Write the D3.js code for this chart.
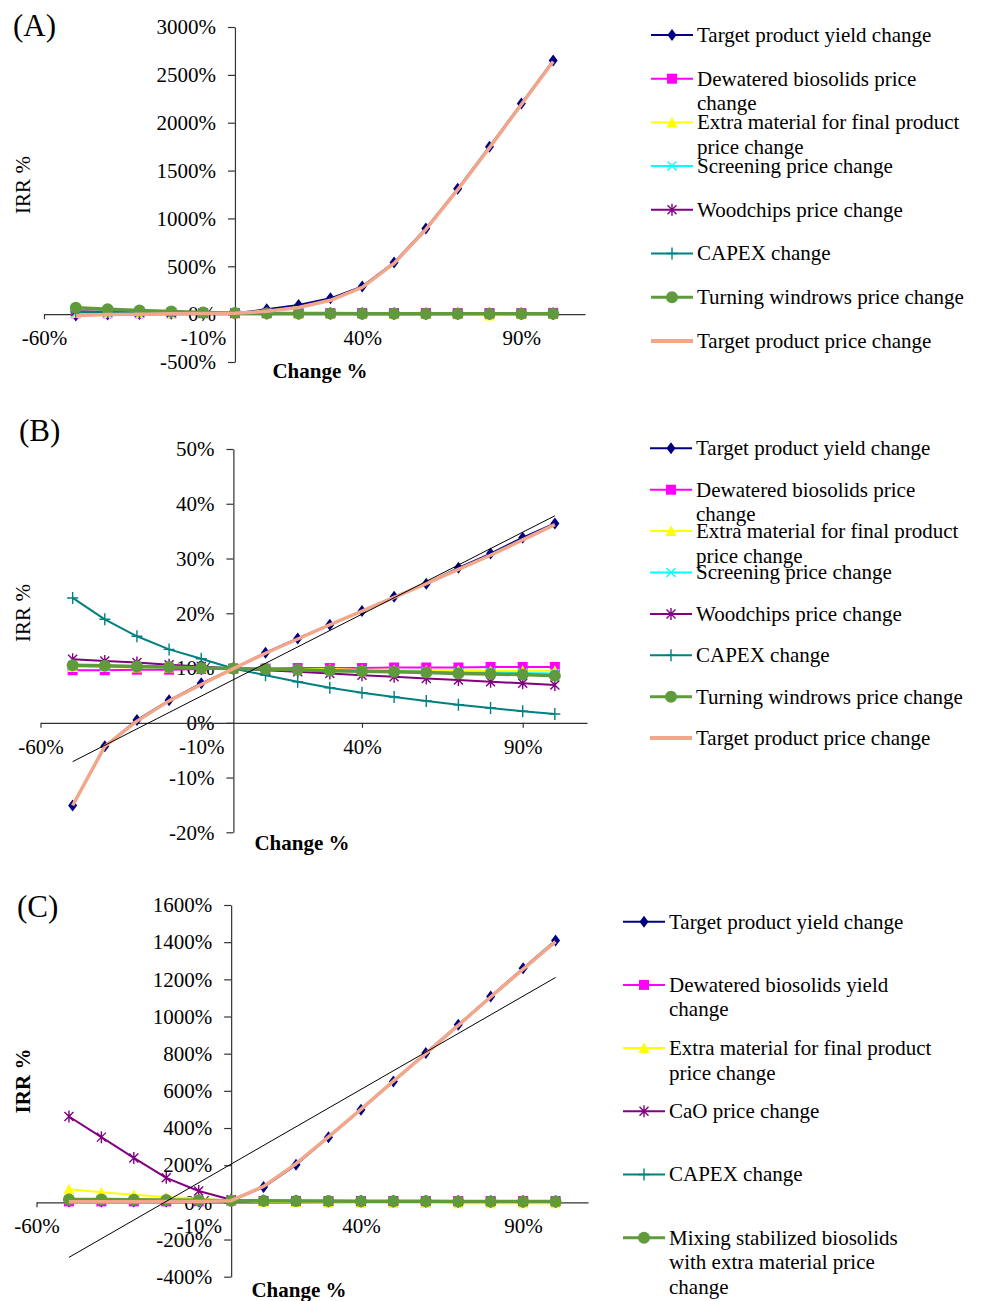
<!DOCTYPE html>
<html>
<head>
<meta charset="utf-8">
<script src="https://cdn.jsdelivr.net/npm/d3@7/dist/d3.min.js"></script>
<style>
body { margin: 0; background: #fff; }
svg { font-family: "Liberation Serif", "Times New Roman", serif; }
</style>
</head>
<body>
<div class="chart"></div>
<script>
// DATA
var changes = [-50, -40, -30, -20, -10, 0, 10, 20, 30, 40, 50, 60, 70, 80, 90, 100];
var xTicks = [-60, -10, 40, 90];

// (A)
var yTicksA = [-500, 0, 500, 1000, 1500, 2000, 2500, 3000];
var yieldA = [-15, -4, 1, 4, 7, 10, 50, 95, 165, 290, 540, 895, 1310, 1750, 2200, 2650];
var dewateredA = [9, 9, 9, 9, 10, 10, 10, 11, 11, 11, 11, 12, 12, 12, 12, 13];
var extraA = [12, 11, 11, 10, 10, 10, 9, 8, 7, 6, 5, 3, 0, -15, -2, 1];
var screeningA = [15, 13, 12, 11, 10, 10, 9, 9, 8, 8, 7, 7, 7, 6, 6, 6];
var woodchipsA = [30, 24, 19, 15, 12, 10, 9, 8, 7, 6, 6, 5, 5, 4, 4, 4];
var capexA = [25, 20, 16, 13, 11, 10, 9, 8, 7, 6, 5, 5, 4, 4, 3, 3];
var windrowsA = [68, 52, 38, 27, 17, 11, 8, 7, 6, 5, 5, 4, 4, 4, 3, 3];
var priceA = [-15, -4, 0, 4, 7, 10, 30, 70, 145, 280, 530, 885, 1300, 1740, 2190, 2640];

// (B)
var yTicksB = [-20, -10, 0, 10, 20, 30, 40, 50];
var yieldB = [-15.1, -4.3, 0.5, 4.1, 7.2, 9.9, 12.8, 15.4, 17.9, 20.4, 23.0, 25.4, 28.3, 30.9, 33.8, 36.4];
var dewateredB = [9.6, 9.6, 9.7, 9.7, 9.8, 9.9, 9.9, 10.0, 10.0, 10.0, 10.1, 10.1, 10.1, 10.2, 10.2, 10.2];
var extraB = [10.2, 10.2, 10.1, 10.1, 10.0, 9.9, 9.9, 9.8, 9.8, 9.7, 9.7, 9.6, 9.6, 9.5, 9.5, 9.5];
var screeningB = [10.4, 10.3, 10.2, 10.1, 10.0, 9.9, 9.8, 9.7, 9.6, 9.5, 9.4, 9.3, 9.2, 9.2, 9.1, 9.0];
var woodchipsB = [11.6, 11.3, 11.0, 10.6, 10.3, 9.9, 9.6, 9.3, 9.0, 8.7, 8.4, 8.1, 7.8, 7.5, 7.2, 6.9];
var capexB = [22.8, 18.9, 15.8, 13.4, 11.7, 9.9, 8.7, 7.5, 6.4, 5.5, 4.7, 4.0, 3.3, 2.7, 2.1, 1.6];
var windrowsB = [10.5, 10.4, 10.3, 10.2, 10.0, 9.9, 9.8, 9.7, 9.5, 9.4, 9.3, 9.2, 9.0, 8.9, 8.8, 8.6];
var priceB = [-15.1, -4.3, 0.3, 4.0, 7.0, 9.9, 12.7, 15.3, 17.9, 20.4, 22.9, 25.4, 28.0, 30.6, 33.4, 36.2];
var trendB = [[-50, -7.1], [100, 37.8]];

// (C)
var yTicksC = [-400, -200, 0, 200, 400, 600, 800, 1000, 1200, 1400, 1600];
var yieldC = [5, 5, 5, 5, 6, 9, 82, 202, 351, 498, 650, 803, 955, 1108, 1260, 1409];
var dewateredC = [5, 5, 5, 5, 6, 7, 7, 7, 7, 7, 7, 7, 7, 7, 7, 7];
var extraC = [70, 55, 41, 29, 19, 9, 3, 1, -2, -3, -4, -4, -5, -5, -5, -5];
var caoC = [462, 351, 239, 132, 61, 14, 8, 7, 6, 6, 6, 6, 5, 5, 5, 5];
var capexC = [14, 13, 12, 11, 10, 9, 8, 8, 7, 7, 6, 6, 6, 5, 5, 5];
var mixingC = [16, 15, 14, 13, 11, 9, 8, 7, 7, 6, 6, 6, 5, 5, 5, 5];
var priceC = [3, 3, 3, 4, 5, 9, 86, 208, 352, 500, 652, 800, 952, 1105, 1255, 1403];
var trendC = [[-50, -296], [100, 1210]];

// legend labels (wrapped as in the figure)
var legendAB = [
	["Target product yield change"],
	["Dewatered biosolids price", "change"],
	["Extra material for final product", "price change"],
	["Screening price change"],
	["Woodchips price change"],
	["CAPEX change"],
	["Turning windrows price change"],
	["Target product price change"]
];
var legendC = [
	["Target product yield change"],
	["Dewatered biosolids yield", "change"],
	["Extra material for final product", "price change"],
	["CaO price change"],
	["CAPEX change"],
	["Mixing stabilized biosolids", "with extra material price", "change"]
];

// STYLES
var st = {
	yield:    { color: "#000080", marker: "diamond", w: 2 },
	dewater:  { color: "#ff00ff", marker: "square", w: 2 },
	extra:    { color: "#ffff00", marker: "triangle", w: 2 },
	screen:   { color: "#00ffff", marker: "x", w: 2 },
	wood:     { color: "#800080", marker: "star", w: 2 },
	capex:    { color: "#008080", marker: "plus", w: 2 },
	green:    { color: "#5f9b3d", marker: "circle", w: 3.5 },
	price:    { color: "#f2a78a", marker: null, w: 3.5 }
};
var fontSize = 21;

var svg = d3.select(".chart")
	.append("svg")
	.attr("width", 981)
	.attr("height", 1301);

// marker shapes
function drawMarker(sel, type, color) {
	switch (type) {
		case "diamond":
			sel.append("path").attr("d", "M0,-6L4.5,0L0,6L-4.5,0Z").attr("fill", color);
			break;
		case "square":
			sel.append("rect").attr("x", -5).attr("y", -5).attr("width", 10).attr("height", 10).attr("fill", color);
			break;
		case "triangle":
			sel.append("path").attr("d", "M0,-5.5L5.5,5L-5.5,5Z").attr("fill", color);
			break;
		case "circle":
			sel.append("circle").attr("r", 6).attr("fill", color);
			break;
		case "x":
			sel.append("path").attr("d", "M-4.5,-4.5L4.5,4.5M-4.5,4.5L4.5,-4.5")
				.attr("stroke", color).attr("stroke-width", 1.4).attr("fill", "none");
			break;
		case "star":
			sel.append("path").attr("d", "M-4.5,-4.5L4.5,4.5M-4.5,4.5L4.5,-4.5M0,-6L0,6")
				.attr("stroke", color).attr("stroke-width", 1.4).attr("fill", "none");
			break;
		case "plus":
			sel.append("path").attr("d", "M-5.5,0L5.5,0M0,-6L0,6")
				.attr("stroke", color).attr("stroke-width", 1.4).attr("fill", "none");
			break;
	}
}

function drawPanel(p) {
	var x = d3.scaleLinear().domain([-60, 110]).range([p.x0, p.x1]);
	var y = d3.scaleLinear().domain(p.yDomain).range([p.yBottom, p.yTop]);
	var g = svg.append("g");

	// y axis
	var ya = g.append("g")
		.attr("transform", "translate(" + x(0) + ",0)")
		.call(d3.axisLeft(y).tickValues(p.yTicks).tickSize(7).tickSizeOuter(0).tickPadding(12)
			.tickFormat(function(d) { return d + "%"; }));
	// x axis
	var xa = g.append("g")
		.attr("transform", "translate(0," + y(0) + ")")
		.call(d3.axisBottom(x).tickValues(xTicks).tickSize(5).tickSizeOuter(0).tickPadding(11)
			.tickFormat(function(d) { return d + "%"; }));
	[ya, xa].forEach(function(a) {
		a.selectAll("path, line").attr("stroke", "#333").attr("stroke-width", 1.2);
		a.selectAll("text").attr("font-size", fontSize).attr("fill", "#000")
			.attr("font-family", "Liberation Serif, Times New Roman, serif");
	});

	// series
	var line = d3.line()
		.x(function(d) { return x(d[0]); })
		.y(function(d) { return y(d[1]); });

	p.series.forEach(function(s) {
		var pts = changes.map(function(c, i) { return [c, s.values[i]]; });
		g.append("path")
			.attr("d", line(pts))
			.attr("fill", "none")
			.attr("stroke", s.style.color)
			.attr("stroke-width", s.style.w)
			.attr("stroke-linejoin", "round");
		if (s.style.marker) {
			pts.forEach(function(pt) {
				var m = g.append("g").attr("transform", "translate(" + x(pt[0]) + "," + y(pt[1]) + ")");
				drawMarker(m, s.style.marker, s.style.color);
			});
		}
	});

	// linear trend
	if (p.trend) {
		g.append("path")
			.attr("d", line(p.trend))
			.attr("fill", "none")
			.attr("stroke", "#000")
			.attr("stroke-width", 1);
	}

	// titles
	g.append("text")
		.attr("x", p.labelPos[0]).attr("y", p.labelPos[1])
		.attr("font-size", 31)
		.text(p.label);
	g.append("text")
		.attr("transform", "translate(30," + p.irrY + ") rotate(-90)")
		.attr("text-anchor", "middle")
		.attr("font-size", fontSize)
		.attr("font-weight", p.irrBold ? "bold" : "normal")
		.text("IRR %");
	g.append("text")
		.attr("x", p.changePos[0]).attr("y", p.changePos[1])
		.attr("text-anchor", "middle")
		.attr("font-size", fontSize)
		.attr("font-weight", "bold")
		.text("Change %");

	// legend
	var leg = g.append("g");
	p.legend.forEach(function(lines, i) {
		var s = p.series[i];
		var ly = p.legY0 + i * p.legStep;
		var item = leg.append("g").attr("transform", "translate(" + p.legX + "," + ly + ")");
		item.append("line")
			.attr("x1", 0).attr("x2", 42).attr("y1", 0).attr("y2", 0)
			.attr("stroke", s.style.color)
			.attr("stroke-width", s.style.marker ? Math.min(s.style.w, 3) : 4);
		if (s.style.marker) {
			var m = item.append("g").attr("transform", "translate(21,0)");
			drawMarker(m, s.style.marker, s.style.color);
		}
		var t = item.append("text")
			.attr("x", 46).attr("y", 0)
			.attr("font-size", fontSize)
			.attr("fill", "#000");
		lines.forEach(function(l, j) {
			t.append("tspan").attr("x", 46).attr("dy", j === 0 ? "0.33em" : 24.5).text(l);
		});
	});
}

drawPanel({
	label: "(A)", labelPos: [13, 36],
	x0: 44, x1: 585, yDomain: [-500, 3000], yTop: 27, yBottom: 362, yTicks: yTicksA,
	irrY: 185, irrBold: false, changePos: [320, 378],
	legX: 651, legY0: 35, legStep: 43.7, legend: legendAB,
	series: [
		{ values: yieldA, style: st.yield },
		{ values: dewateredA, style: st.dewater },
		{ values: extraA, style: st.extra },
		{ values: screeningA, style: st.screen },
		{ values: woodchipsA, style: st.wood },
		{ values: capexA, style: st.capex },
		{ values: windrowsA, style: st.green },
		{ values: priceA, style: st.price }
	]
});

drawPanel({
	label: "(B)", labelPos: [19, 441],
	x0: 40.5, x1: 587, yDomain: [-20, 50], yTop: 449, yBottom: 832.3, yTicks: yTicksB,
	irrY: 613, irrBold: false, changePos: [302, 850],
	legX: 650, legY0: 448.3, legStep: 41.4, legend: legendAB,
	trend: trendB,
	series: [
		{ values: yieldB, style: st.yield },
		{ values: dewateredB, style: st.dewater },
		{ values: extraB, style: st.extra },
		{ values: screeningB, style: st.screen },
		{ values: woodchipsB, style: st.wood },
		{ values: capexB, style: st.capex },
		{ values: windrowsB, style: st.green },
		{ values: priceB, style: st.price }
	]
});

drawPanel({
	label: "(C)", labelPos: [17, 917],
	x0: 36.5, x1: 588, yDomain: [-400, 1600], yTop: 905, yBottom: 1276.7, yTicks: yTicksC,
	irrY: 1081, irrBold: true, changePos: [299, 1297],
	legX: 623, legY0: 921.7, legStep: 63.2, legend: legendC,
	trend: trendC,
	series: [
		{ values: yieldC, style: st.yield },
		{ values: dewateredC, style: st.dewater },
		{ values: extraC, style: st.extra },
		{ values: caoC, style: st.wood },
		{ values: capexC, style: st.capex },
		{ values: mixingC, style: st.green },
		{ values: priceC, style: st.price }
	]
});
</script>
</body>
</html>
